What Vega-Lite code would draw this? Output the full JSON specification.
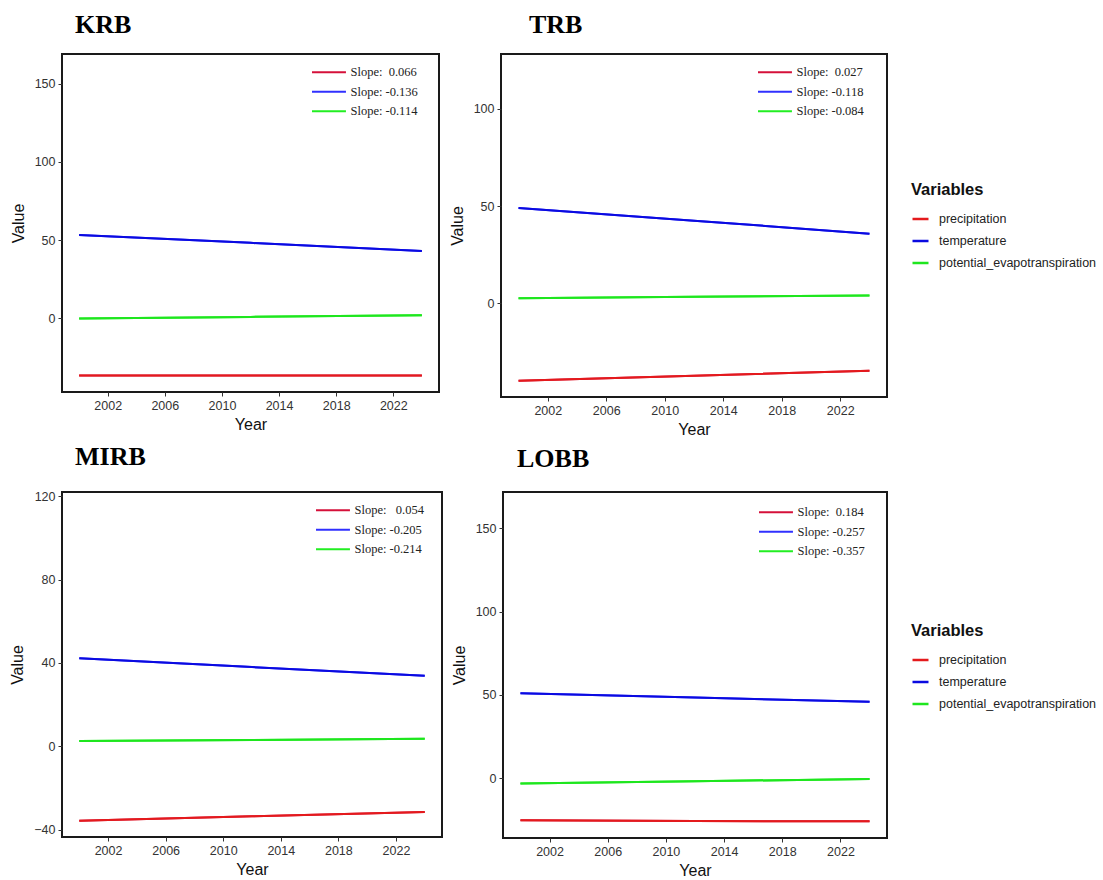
{
  "$schema": "https://vega.github.io/schema/vega-lite/v6.json",
  "background": "white",
  "padding": {"left": 8, "top": 11, "right": 2, "bottom": 2},
  "config": {
    "font": "Liberation Sans",
    "view": {"stroke": "#1a1a1a", "strokeWidth": 2},
    "axis": {"grid": false, "domain": false, "tickColor": "#333333", "tickSize": 4, "labelColor": "#333333", "labelFontSize": 12.5, "labelPadding": 3, "titleFontSize": 16, "titleFontWeight": "normal", "titleColor": "#111111"},
    "title": {"font": "Liberation Serif", "fontSize": 26, "fontWeight": "bold", "anchor": "start", "frame": "group", "color": "#000000"}
  },
  "datasets": {
    "d": [
      {"basin": "KRB", "Year": 2000, "Variable": "precipitation", "Value": -36.5, "Slope": "Slope:\u00a0\u00a00.066"},
      {"basin": "KRB", "Year": 2012, "Variable": "precipitation", "Value": -36.5, "Slope": "Slope:\u00a0\u00a00.066"},
      {"basin": "KRB", "Year": 2024, "Variable": "precipitation", "Value": -36.5, "Slope": "Slope:\u00a0\u00a00.066"},
      {"basin": "KRB", "Year": 2000, "Variable": "temperature", "Value": 53.3, "Slope": "Slope: -0.136"},
      {"basin": "KRB", "Year": 2012, "Variable": "temperature", "Value": 48.3, "Slope": "Slope: -0.136"},
      {"basin": "KRB", "Year": 2024, "Variable": "temperature", "Value": 43.1, "Slope": "Slope: -0.136"},
      {"basin": "KRB", "Year": 2000, "Variable": "potential_evapotranspiration", "Value": 0.0, "Slope": "Slope: -0.114"},
      {"basin": "KRB", "Year": 2012, "Variable": "potential_evapotranspiration", "Value": 1.0, "Slope": "Slope: -0.114"},
      {"basin": "KRB", "Year": 2024, "Variable": "potential_evapotranspiration", "Value": 2.1, "Slope": "Slope: -0.114"},

      {"basin": "TRB", "Year": 2000, "Variable": "precipitation", "Value": -39.7, "Slope": "Slope:\u00a0\u00a00.027"},
      {"basin": "TRB", "Year": 2012, "Variable": "precipitation", "Value": -37.1, "Slope": "Slope:\u00a0\u00a00.027"},
      {"basin": "TRB", "Year": 2024, "Variable": "precipitation", "Value": -34.5, "Slope": "Slope:\u00a0\u00a00.027"},
      {"basin": "TRB", "Year": 2000, "Variable": "temperature", "Value": 49.0, "Slope": "Slope: -0.118"},
      {"basin": "TRB", "Year": 2012, "Variable": "temperature", "Value": 42.5, "Slope": "Slope: -0.118"},
      {"basin": "TRB", "Year": 2024, "Variable": "temperature", "Value": 35.8, "Slope": "Slope: -0.118"},
      {"basin": "TRB", "Year": 2000, "Variable": "potential_evapotranspiration", "Value": 2.7, "Slope": "Slope: -0.084"},
      {"basin": "TRB", "Year": 2012, "Variable": "potential_evapotranspiration", "Value": 3.4, "Slope": "Slope: -0.084"},
      {"basin": "TRB", "Year": 2024, "Variable": "potential_evapotranspiration", "Value": 4.1, "Slope": "Slope: -0.084"},

      {"basin": "MIRB", "Year": 2000, "Variable": "precipitation", "Value": -35.7, "Slope": "Slope:\u00a0\u00a0\u00a00.054"},
      {"basin": "MIRB", "Year": 2012, "Variable": "precipitation", "Value": -33.6, "Slope": "Slope:\u00a0\u00a0\u00a00.054"},
      {"basin": "MIRB", "Year": 2024, "Variable": "precipitation", "Value": -31.5, "Slope": "Slope:\u00a0\u00a0\u00a00.054"},
      {"basin": "MIRB", "Year": 2000, "Variable": "temperature", "Value": 42.2, "Slope": "Slope: -0.205"},
      {"basin": "MIRB", "Year": 2012, "Variable": "temperature", "Value": 38.0, "Slope": "Slope: -0.205"},
      {"basin": "MIRB", "Year": 2024, "Variable": "temperature", "Value": 33.8, "Slope": "Slope: -0.205"},
      {"basin": "MIRB", "Year": 2000, "Variable": "potential_evapotranspiration", "Value": 2.5, "Slope": "Slope: -0.214"},
      {"basin": "MIRB", "Year": 2012, "Variable": "potential_evapotranspiration", "Value": 3.0, "Slope": "Slope: -0.214"},
      {"basin": "MIRB", "Year": 2024, "Variable": "potential_evapotranspiration", "Value": 3.6, "Slope": "Slope: -0.214"},

      {"basin": "LOBB", "Year": 2000, "Variable": "precipitation", "Value": -25.4, "Slope": "Slope:\u00a0\u00a00.184"},
      {"basin": "LOBB", "Year": 2012, "Variable": "precipitation", "Value": -25.8, "Slope": "Slope:\u00a0\u00a00.184"},
      {"basin": "LOBB", "Year": 2024, "Variable": "precipitation", "Value": -26.0, "Slope": "Slope:\u00a0\u00a00.184"},
      {"basin": "LOBB", "Year": 2000, "Variable": "temperature", "Value": 51.0, "Slope": "Slope: -0.257"},
      {"basin": "LOBB", "Year": 2012, "Variable": "temperature", "Value": 48.4, "Slope": "Slope: -0.257"},
      {"basin": "LOBB", "Year": 2024, "Variable": "temperature", "Value": 45.8, "Slope": "Slope: -0.257"},
      {"basin": "LOBB", "Year": 2000, "Variable": "potential_evapotranspiration", "Value": -3.2, "Slope": "Slope: -0.357"},
      {"basin": "LOBB", "Year": 2012, "Variable": "potential_evapotranspiration", "Value": -1.9, "Slope": "Slope: -0.357"},
      {"basin": "LOBB", "Year": 2024, "Variable": "potential_evapotranspiration", "Value": -0.6, "Slope": "Slope: -0.357"}
    ]
  },
  "spacing": 4,
  "resolve": {"scale": {"color": "independent", "stroke": "independent"}},
  "vconcat": [
    {
      "spacing": 8,
      "resolve": {"scale": {"color": "independent", "stroke": "independent"}},
      "hconcat": [
        {
          "width": 377, "height": 338,
          "title": {"text": "KRB", "dx": 13, "offset": 16},
          "data": {"name": "d"},
          "transform": [{"filter": "datum.basin === 'KRB'"}],
          "encoding": {
            "x": {"field": "Year", "type": "quantitative", "scale": {"domain": [1998.8, 2025.2], "nice": false, "zero": false}, "axis": {"values": [2002, 2006, 2010, 2014, 2018, 2022], "format": "d", "title": "Year", "titlePadding": 5}},
            "y": {"field": "Value", "type": "quantitative", "scale": {"domain": [-47, 169], "nice": false, "zero": false}, "axis": {"values": [0, 50, 100, 150], "title": "Value", "titlePadding": 8}}
          },
          "layer": [
            {"mark": {"type": "line", "strokeWidth": 2},
             "encoding": {"stroke": {"field": "Slope", "type": "nominal",
               "scale": {"domain": ["Slope:\u00a0\u00a00.066", "Slope: -0.136", "Slope: -0.114"], "range": ["#D5103A", "#3030FF", "#22EE22"]},
               "legend": {"title": null, "orient": "none", "legendX": 248, "legendY": 12, "symbolType": "M-1,0L7,0", "symbolSize": 72, "symbolStrokeWidth": 2, "labelFont": "Liberation Serif", "labelFontSize": 12.5, "labelColor": "#222222", "labelOffset": 28, "rowPadding": 6.5, "padding": 0}}}},
            {"mark": {"type": "line", "strokeWidth": 2},
             "encoding": {"color": {"field": "Variable", "type": "nominal",
               "scale": {"domain": ["precipitation", "temperature", "potential_evapotranspiration"], "range": ["#E41A1C", "#0A0AE0", "#1EE61E"]},
               "legend": null}}}
          ]
        },
        {
          "width": 386, "height": 343,
          "title": {"text": "TRB", "dx": 28, "offset": 16},
          "data": {"name": "d"},
          "transform": [{"filter": "datum.basin === 'TRB'"}],
          "encoding": {
            "x": {"field": "Year", "type": "quantitative", "scale": {"domain": [1998.8, 2025.2], "nice": false, "zero": false}, "axis": {"values": [2002, 2006, 2010, 2014, 2018, 2022], "format": "d", "title": "Year", "titlePadding": 5}},
            "y": {"field": "Value", "type": "quantitative", "scale": {"domain": [-48, 128], "nice": false, "zero": false}, "axis": {"values": [0, 50, 100], "title": "Value", "titlePadding": 8}}
          },
          "layer": [
            {"mark": {"type": "line", "strokeWidth": 2},
             "encoding": {"stroke": {"field": "Slope", "type": "nominal",
               "scale": {"domain": ["Slope:\u00a0\u00a00.027", "Slope: -0.118", "Slope: -0.084"], "range": ["#D5103A", "#3030FF", "#22EE22"]},
               "legend": {"title": null, "orient": "none", "legendX": 255, "legendY": 12, "symbolType": "M-1,0L7,0", "symbolSize": 72, "symbolStrokeWidth": 2, "labelFont": "Liberation Serif", "labelFontSize": 12.5, "labelColor": "#222222", "labelOffset": 28, "rowPadding": 6.5, "padding": 0}}}},
            {"mark": {"type": "line", "strokeWidth": 2},
             "encoding": {"color": {"field": "Variable", "type": "nominal", "title": "Variables",
               "scale": {"domain": ["precipitation", "temperature", "potential_evapotranspiration"], "range": ["#E41A1C", "#0A0AE0", "#1EE61E"]},
               "legend": {"orient": "none", "legendX": 410, "legendY": 128, "symbolType": "stroke", "symbolSize": 256, "symbolStrokeWidth": 2.5, "titleFont": "Liberation Sans", "titleFontSize": 16.5, "titleFontWeight": "bold", "titleColor": "#111111", "titlePadding": 11, "labelFontSize": 12.5, "labelColor": "#222222", "labelOffset": 9, "rowPadding": 6, "padding": 0}}}}
          ]
        }
      ]
    },
    {
      "spacing": 7,
      "resolve": {"scale": {"color": "independent", "stroke": "independent"}},
      "hconcat": [
        {
          "width": 380, "height": 345,
          "title": {"text": "MIRB", "dx": 13, "offset": 20},
          "data": {"name": "d"},
          "transform": [{"filter": "datum.basin === 'MIRB'"}],
          "encoding": {
            "x": {"field": "Year", "type": "quantitative", "scale": {"domain": [1998.8, 2025.2], "nice": false, "zero": false}, "axis": {"values": [2002, 2006, 2010, 2014, 2018, 2022], "format": "d", "title": "Year", "titlePadding": 5}},
            "y": {"field": "Value", "type": "quantitative", "scale": {"domain": [-43.5, 122], "nice": false, "zero": false}, "axis": {"values": [-40, 0, 40, 80, 120], "title": "Value", "titlePadding": 8}}
          },
          "layer": [
            {"mark": {"type": "line", "strokeWidth": 2},
             "encoding": {"stroke": {"field": "Slope", "type": "nominal",
               "scale": {"domain": ["Slope:\u00a0\u00a0\u00a00.054", "Slope: -0.205", "Slope: -0.214"], "range": ["#D5103A", "#3030FF", "#22EE22"]},
               "legend": {"title": null, "orient": "none", "legendX": 252, "legendY": 12, "symbolType": "M-1,0L7,0", "symbolSize": 72, "symbolStrokeWidth": 2, "labelFont": "Liberation Serif", "labelFontSize": 12.5, "labelColor": "#222222", "labelOffset": 28, "rowPadding": 6.5, "padding": 0}}}},
            {"mark": {"type": "line", "strokeWidth": 2},
             "encoding": {"color": {"field": "Variable", "type": "nominal",
               "scale": {"domain": ["precipitation", "temperature", "potential_evapotranspiration"], "range": ["#E41A1C", "#0A0AE0", "#1EE61E"]},
               "legend": null}}}
          ]
        },
        {
          "width": 384, "height": 346,
          "title": {"text": "LOBB", "dx": 14, "offset": 20},
          "data": {"name": "d"},
          "transform": [{"filter": "datum.basin === 'LOBB'"}],
          "encoding": {
            "x": {"field": "Year", "type": "quantitative", "scale": {"domain": [1998.8, 2025.2], "nice": false, "zero": false}, "axis": {"values": [2002, 2006, 2010, 2014, 2018, 2022], "format": "d", "title": "Year", "titlePadding": 5}},
            "y": {"field": "Value", "type": "quantitative", "scale": {"domain": [-36, 171.8], "nice": false, "zero": false}, "axis": {"values": [0, 50, 100, 150], "title": "Value", "titlePadding": 8}}
          },
          "layer": [
            {"mark": {"type": "line", "strokeWidth": 2},
             "encoding": {"stroke": {"field": "Slope", "type": "nominal",
               "scale": {"domain": ["Slope:\u00a0\u00a00.184", "Slope: -0.257", "Slope: -0.357"], "range": ["#D5103A", "#3030FF", "#22EE22"]},
               "legend": {"title": null, "orient": "none", "legendX": 254, "legendY": 14, "symbolType": "M-1,0L7,0", "symbolSize": 72, "symbolStrokeWidth": 2, "labelFont": "Liberation Serif", "labelFontSize": 12.5, "labelColor": "#222222", "labelOffset": 28, "rowPadding": 6.5, "padding": 0}}}},
            {"mark": {"type": "line", "strokeWidth": 2},
             "encoding": {"color": {"field": "Variable", "type": "nominal", "title": "Variables",
               "scale": {"domain": ["precipitation", "temperature", "potential_evapotranspiration"], "range": ["#E41A1C", "#0A0AE0", "#1EE61E"]},
               "legend": {"orient": "none", "legendX": 408, "legendY": 131, "symbolType": "stroke", "symbolSize": 256, "symbolStrokeWidth": 2.5, "titleFont": "Liberation Sans", "titleFontSize": 16.5, "titleFontWeight": "bold", "titleColor": "#111111", "titlePadding": 11, "labelFontSize": 12.5, "labelColor": "#222222", "labelOffset": 9, "rowPadding": 6, "padding": 0}}}}
          ]
        }
      ]
    }
  ]
}
